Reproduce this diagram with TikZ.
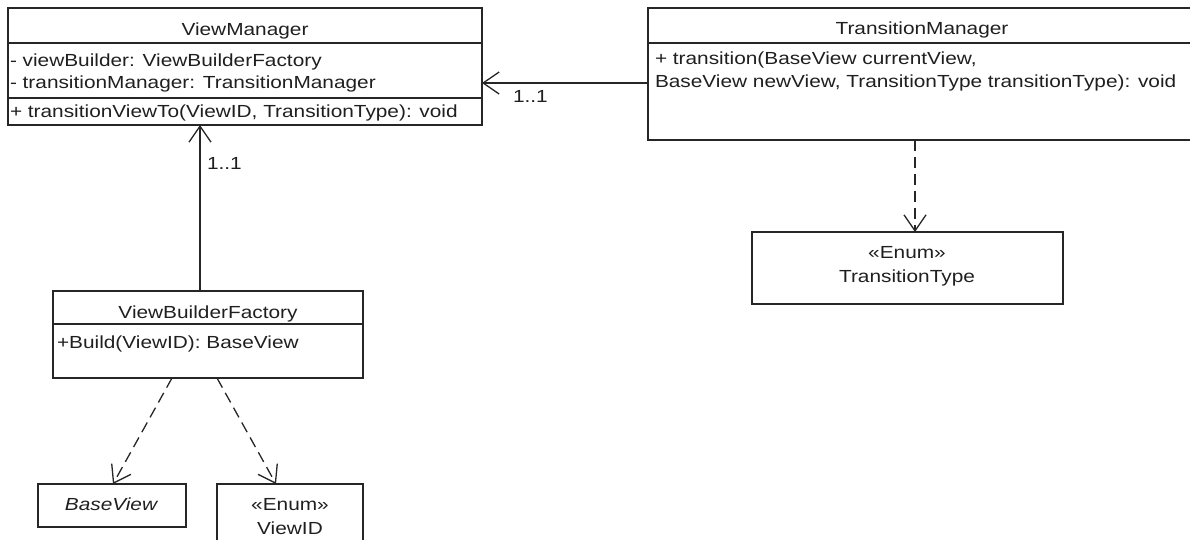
\documentclass[tikz,border=0pt]{standalone}
\usepackage{fontspec}
\setmainfont[FakeStretch=1.19]{Liberation Sans}
\usetikzlibrary{arrows.meta}
\begin{document}
\begin{tikzpicture}[x=1pt,y=-1pt,
  box/.style={draw=black!85, line width=1.4pt, outer sep=0pt, inner sep=0pt, anchor=north west},
  txt/.style={inner sep=0pt, outer sep=0pt, text=black!88, font=\fontsize{17.5}{21}\selectfont},
  sep/.style={draw=black!85, line width=1.4pt},
  assoc/.style={draw=black!85, line width=1.3pt, -{Straight Barb[length=16pt,width=22pt,line width=1.3pt]}},
  dep/.style={assoc, dash pattern=on 11pt off 6pt}]
\useasboundingbox (0,0) rectangle (1190,540);
\clip (0,0) rectangle (1190,540);
% ViewManager
\node[box, minimum width=474pt, minimum height=117pt] (vm) at (8,8) {};
\draw[sep] (vm.west |- {0,43}) -- (vm.east |- {0,43});
\draw[sep] (vm.west |- {0,98}) -- (vm.east |- {0,98});
\node[txt, anchor=base] (vmt) at (245,36) {ViewManager};
\node[txt, anchor=base west] (vma1) at (10,67) {- viewBuilder: ViewBuilderFactory};
\node[txt, anchor=base west] (vma2) at (10,89) {- transitionManager: TransitionManager};
\node[txt, anchor=base west] (vmm) at (10,118) {+ transitionViewTo(ViewID, TransitionType): void};
% TransitionManager
\node[box, minimum width=548pt, minimum height=132pt] (tm) at (648,8) {};
\draw[sep] (tm.west |- {0,43}) -- (tm.east |- {0,43});
\node[txt, anchor=base] (tmt) at (922,35) {TransitionManager};
\node[txt, anchor=base west] (tmm1) at (655,65) {+ transition(BaseView currentView,};
\node[txt, anchor=base west] (tmm2) at (655,88) {BaseView newView, TransitionType transitionType): void};
% ViewBuilderFactory
\node[box, minimum width=310pt, minimum height=87pt] (vbf) at (53,291) {};
\draw[sep] (vbf.west |- {0,324}) -- (vbf.east |- {0,324});
\node[txt, anchor=base] (vbft) at (208,318) {ViewBuilderFactory};
\node[txt, anchor=base west] (vbfm) at (57,348) {+Build(ViewID): BaseView};
% BaseView
\node[box, minimum width=148pt, minimum height=43pt] (bv) at (38,484) {};
\node[txt, anchor=base, font=\fontsize{17.5}{21}\selectfont\itshape] (bvt) at (111,510) {BaseView};
% ViewID
\node[box, minimum width=146pt, minimum height=64pt] (vid) at (217,484) {};
\node[txt, anchor=base] (vid1) at (290,510) {«Enum»};
\node[txt, anchor=base] (vid2) at (290,534) {ViewID};
% TransitionType
\node[box, minimum width=311pt, minimum height=72pt] (tt) at (752,232) {};
\node[txt, anchor=base] (tt1) at (907,258) {«Enum»};
\node[txt, anchor=base] (tt2) at (907,282) {TransitionType};
% connectors
\draw[assoc] (tm.west |- {0,83}) -- (vm.east |- {0,83});
\node[txt, anchor=base west] (l1) at (513,103) {1..1};
\draw[assoc] (vbf.north -| {200,0}) -- (vm.south -| {200,0});
\node[txt, anchor=base west] (l2) at (207,170) {1..1};
\draw[dep] (tm.south -| {915,0}) -- (tt.north -| {915,0});
\draw[dep] (vbf.south -| {172,0}) -- (bv.north -| {113,0});
\draw[dep] (vbf.south -| {217,0}) -- (vid.north -| {276,0});
\end{tikzpicture}
\end{document}
